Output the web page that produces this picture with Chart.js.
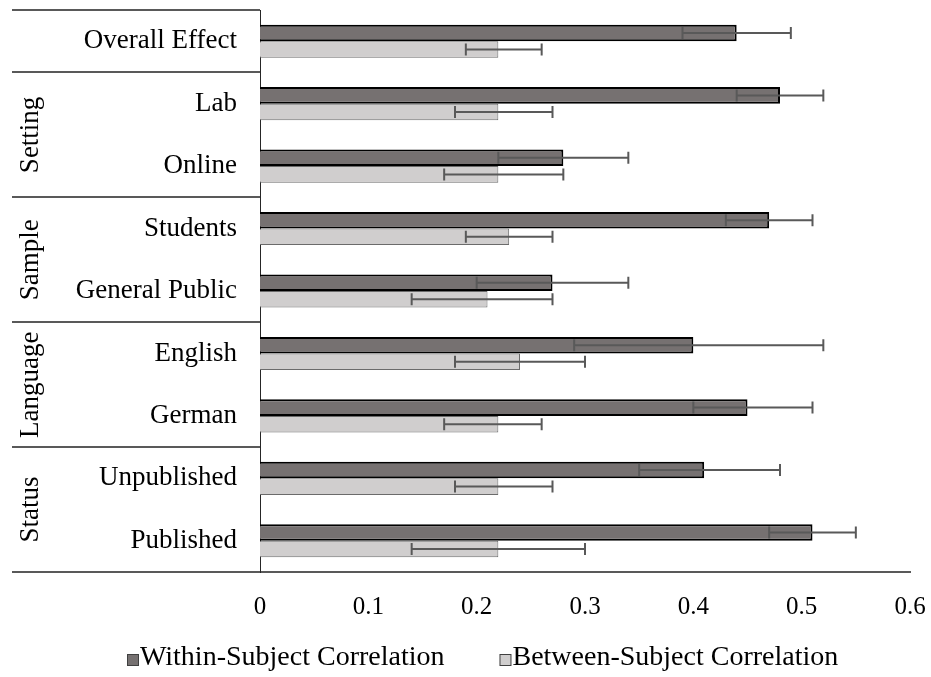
<!DOCTYPE html>
<html>
<head>
<meta charset="utf-8">
<script src="https://cdn.jsdelivr.net/npm/chart.js@4.4.1/dist/chart.umd.min.js"></script>
<style>
  html, body { margin: 0; padding: 0; background: #fff; }
  #wrap { width: 931px; height: 677px; }
</style>
</head>
<body>
<div id="wrap"><canvas id="chart" width="931" height="677"></canvas></div>
<script>
// Meta-analytic correlations by moderator, with confidence intervals
const categories = ['Overall Effect', 'Lab', 'Online', 'Students', 'General Public', 'English', 'German', 'Unpublished', 'Published'];
const withinValues = [0.44, 0.48, 0.28, 0.47, 0.27, 0.40, 0.45, 0.41, 0.51];
const withinLow    = [0.39, 0.44, 0.22, 0.43, 0.20, 0.29, 0.40, 0.35, 0.47];
const withinHigh   = [0.49, 0.52, 0.34, 0.51, 0.34, 0.52, 0.51, 0.48, 0.55];
const betweenValues = [0.22, 0.22, 0.22, 0.23, 0.21, 0.24, 0.22, 0.22, 0.22];
const betweenLow    = [0.19, 0.18, 0.17, 0.19, 0.14, 0.18, 0.17, 0.18, 0.14];
const betweenHigh   = [0.26, 0.27, 0.28, 0.27, 0.27, 0.30, 0.26, 0.27, 0.30];
const seriesNames = ['Within-Subject Correlation', 'Between-Subject Correlation'];
const groupNames = ['Setting', 'Sample', 'Language', 'Status'];
const groupFirst = [1, 3, 5, 7];
const groupLast  = [2, 4, 6, 8];
const xTickLabels = ['0', '0.1', '0.2', '0.3', '0.4', '0.5', '0.6'];

const FONT = "'Liberation Serif', 'Times New Roman', serif";
const LINE = '#595959';

// keep the plot area where the layout padding puts it
const noScalePadding = (s) => {
  s.paddingTop = 0; s.paddingBottom = 0; s.paddingLeft = 0; s.paddingRight = 0;
};

// Confidence interval whiskers, moderator grouping on the left, and the legend row
const decorations = {
  id: 'decorations',
  afterDatasetsDraw(chart) {
    const ctx = chart.ctx;
    const xs = chart.scales.x;
    const ys = chart.scales.y;
    const area = chart.chartArea;
    const bounds = [[withinLow, withinHigh], [betweenLow, betweenHigh]];

    ctx.save();
    ctx.strokeStyle = LINE;
    ctx.lineWidth = 2;
    chart.data.datasets.forEach((ds, d) => {
      const meta = chart.getDatasetMeta(d);
      meta.data.forEach((bar, i) => {
        const y = bar.y;
        const x1 = xs.getPixelForValue(bounds[d][0][i]);
        const x2 = xs.getPixelForValue(bounds[d][1][i]);
        ctx.beginPath();
        ctx.moveTo(x1, y); ctx.lineTo(x2, y);
        ctx.moveTo(x1, y - 6); ctx.lineTo(x1, y + 6);
        ctx.moveTo(x2, y - 6); ctx.lineTo(x2, y + 6);
        ctx.stroke();
      });
    });

    // horizontal rules separating the moderator blocks
    const edge = (k) => (k < 0) ? area.top
      : (k >= categories.length - 1) ? area.bottom
      : (ys.getPixelForValue(k) + ys.getPixelForValue(k + 1)) / 2;
    const rules = [-1, 0].concat(groupLast);
    ctx.strokeStyle = LINE;
    ctx.lineWidth = 2;
    rules.forEach(k => {
      const y = Math.round(edge(k));
      ctx.beginPath();
      ctx.moveTo(12, y);
      ctx.lineTo(area.left, y);
      ctx.stroke();
    });

    // rotated group names
    ctx.fillStyle = '#000';
    ctx.font = '27px ' + FONT;
    ctx.textAlign = 'center';
    ctx.textBaseline = 'middle';
    groupNames.forEach((name, g) => {
      const yc = (edge(groupFirst[g] - 1) + edge(groupLast[g])) / 2;
      ctx.save();
      ctx.translate(31, yc);
      ctx.rotate(-Math.PI / 2);
      ctx.fillText(name, 0, 0);
      ctx.restore();
    });

    // legend
    ctx.font = '28px ' + FONT;
    ctx.textAlign = 'left';
    ctx.textBaseline = 'alphabetic';
    const box = 11, gapText = 2, gapItem = 55;
    const widths = chart.data.datasets.map(ds => ctx.measureText(ds.label).width);
    const total = widths.reduce((a, w) => a + box + gapText + w, 0) + gapItem;
    let x = Math.round(483 - total / 2);
    const baseY = 665;
    chart.data.datasets.forEach((ds, d) => {
      ctx.fillStyle = ds.backgroundColor;
      ctx.fillRect(x + 0.5, baseY - box + 0.5, box, box);
      ctx.strokeStyle = '#404040';
      ctx.lineWidth = 1;
      ctx.strokeRect(x + 0.5, baseY - box + 0.5, box, box);
      ctx.fillStyle = '#000';
      ctx.fillText(ds.label, x + box + gapText, baseY);
      x += box + gapText + widths[d] + gapItem;
    });
    ctx.restore();
  }
};

new Chart(document.getElementById('chart'), {
  type: 'bar',
  data: {
    labels: categories,
    datasets: [
      {
        label: seriesNames[0],
        data: withinValues,
        backgroundColor: '#767171',
        borderColor: '#000000',
        borderWidth: 2,
        borderSkipped: 'start'
      },
      {
        label: seriesNames[1],
        data: betweenValues,
        backgroundColor: '#d0cece',
        borderColor: '#6b6b6b',
        borderWidth: 1,
        borderSkipped: 'start'
      }
    ]
  },
  options: {
    indexAxis: 'y',
    responsive: false,
    animation: false,
    devicePixelRatio: 1,
    datasets: { bar: { categoryPercentage: 0.53, barPercentage: 1.0 } },
    layout: { padding: { top: 10, right: 21, left: 0, bottom: 0 } },
    plugins: {
      legend: { display: false },
      tooltip: { enabled: false }
    },
    scales: {
      x: {
        type: 'linear',
        min: 0,
        max: 0.6,
        afterFit: (s) => { s.height = 105; noScalePadding(s); },
        grid: { display: false, drawTicks: false },
        border: { display: true, color: LINE, width: 2 },
        ticks: {
          stepSize: 0.1,
          padding: 20,
          color: '#000',
          font: { family: FONT, size: 25 },
          callback: (v, i) => xTickLabels[i]
        }
      },
      y: {
        type: 'category',
        afterFit: (s) => { s.width = 260; noScalePadding(s); },
        grid: { display: false, drawTicks: false },
        border: { display: true, color: '#262626', width: 1 },
        ticks: {
          padding: 23,
          color: '#000',
          font: { family: FONT, size: 27 }
        }
      }
    }
  },
  plugins: [decorations]
});
</script>
</body>
</html>
